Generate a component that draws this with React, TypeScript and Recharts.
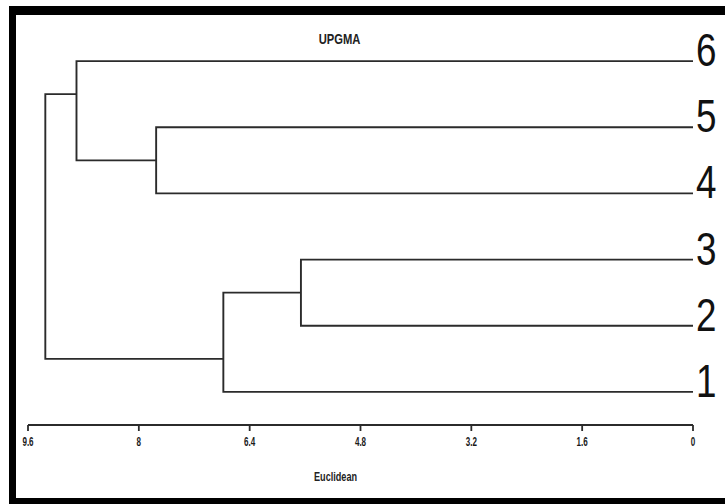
import React from 'react';
import { LineChart, Line, XAxis, YAxis, Customized } from 'recharts';

// Leaves (labels shown on the right) and their vertical slot
const leafNames = ['1', '2', '3', '4', '5', '6'];
const leafSlots = [1, 2, 3, 4, 5, 6];

// Internal clusters: merge distance (Euclidean), vertical slot of the joining branch, and the two merged members
const clusterNames = ['D', 'B', 'A', 'C', 'R'];
const clusterHeights = [5.66, 7.75, 8.9, 6.78, 9.35];
const clusterSlots = [2.5, 4.5, 5.5, 1.5, 3.5];
const clusterFirst = ['3', '5', '6', 'D', 'A'];
const clusterSecond = ['2', '4', 'B', '1', 'C'];

const distanceTicks = [9.6, 8, 6.4, 4.8, 3.2, 1.6, 0];

const TITLE = 'UPGMA';
const X_LABEL = 'Euclidean';

const nodeInfo: Record<string, { h: number; s: number }> = {};
leafNames.forEach((n, i) => (nodeInfo[n] = { h: 0, s: leafSlots[i] }));
clusterNames.forEach((n, i) => (nodeInfo[n] = { h: clusterHeights[i], s: clusterSlots[i] }));

// One U-shaped branch per merge
const branches = clusterNames.map((n, i) => {
  const a = nodeInfo[clusterFirst[i]];
  const b = nodeInfo[clusterSecond[i]];
  const h = clusterHeights[i];
  return [
    { x: a.h, y: a.s },
    { x: h, y: a.s },
    { x: h, y: b.s },
    { x: b.h, y: b.s },
  ];
});

const FONT = '"Liberation Sans", Arial, Helvetica, sans-serif';
const LINE = '#2b2b2b';

const XTick = (props: any) => {
  const { x, y, payload } = props;
  return (
    <g transform={`translate(${x},${y}) scale(0.62,1)`}>
      <text x={0} y={15} textAnchor="middle" fontFamily={FONT} fontWeight="bold" fontSize={13} fill="#1a1a1a">
        {String(payload.value)}
      </text>
    </g>
  );
};

const LeafTick = (props: any) => {
  const { x, y, payload } = props;
  const idx = leafSlots.indexOf(payload.value);
  return (
    <g transform={`translate(${x},${y + 5}) scale(0.8,1)`}>
      <text x={0} y={0} textAnchor="start" fontFamily={FONT} fontSize={46} fill="#111">
        {idx >= 0 ? leafNames[idx] : ''}
      </text>
    </g>
  );
};

const Decor = () => (
  <g>
    <rect x={9} y={6} width={7} height={498} fill="#000" />
    <rect x={9} y={6} width={716} height={9} fill="#000" />
    <rect x={9} y={498} width={716} height={6} fill="#000" />
    <g transform="translate(339.5,44) scale(0.8,1)">
      <text x={0} y={0} textAnchor="middle" fontFamily={FONT} fontWeight="bold" fontSize={14} fill="#222">
        {TITLE}
      </text>
    </g>
    <g transform="translate(335.5,481) scale(0.76,1)">
      <text x={0} y={0} textAnchor="middle" fontFamily={FONT} fontWeight="bold" fontSize={12} fill="#222">
        {X_LABEL}
      </text>
    </g>
  </g>
);

const RightEdge = () => <rect x={720} y={15} width={5} height={483} fill="#fff" />;

export default function App() {
  return (
    <div style={{ position: 'absolute', left: 0, top: 0, width: 725, height: 504, background: '#fff', overflow: 'hidden' }}>
      <LineChart width={725} height={504} margin={{ top: 28, right: 0, bottom: 0, left: 28 }}>
        <Customized component={Decor} />
        <XAxis
          type="number"
          dataKey="x"
          domain={[0, 9.6]}
          reversed
          ticks={distanceTicks}
          interval={0}
          height={79}
          tickSize={6}
          tickMargin={0}
          stroke={LINE}
          strokeWidth={1.8}
          tick={<XTick />}
          allowDataOverflow
        />
        <YAxis
          type="number"
          dataKey="y"
          orientation="right"
          domain={[0.5, 6.5]}
          ticks={leafSlots}
          interval={0}
          width={32}
          axisLine={false}
          tickLine={false}
          tickSize={0}
          tickMargin={3}
          tick={<LeafTick />}
          allowDataOverflow
        />
        {branches.map((pts, i) => (
          <Line
            key={i}
            data={pts}
            dataKey="y"
            type="linear"
            stroke={LINE}
            strokeWidth={1.9}
            dot={false}
            activeDot={false}
            isAnimationActive={false}
            strokeLinejoin="miter"
          />
        ))}
        <Customized component={RightEdge} />
      </LineChart>
    </div>
  );
}
